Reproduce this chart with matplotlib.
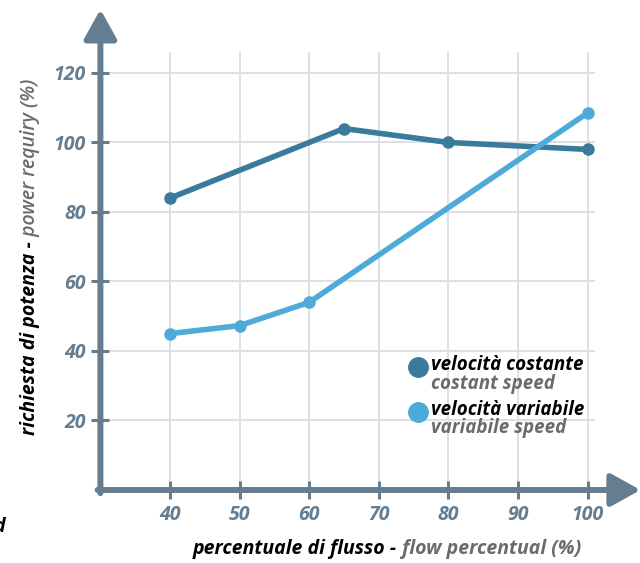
import matplotlib
matplotlib.use("Agg")
import matplotlib.pyplot as plt
from matplotlib.lines import Line2D

# data
flusso_costante = [40, 65, 80, 100]
potenza_costante = [84, 104, 100, 98]
flusso_variabile = [40, 50, 60, 100]
potenza_variabile = [45, 47.3, 54, 108.5]
xticks = [40, 50, 60, 70, 80, 90, 100]
yticks = [20, 40, 60, 80, 100, 120]

c_axis = "#647d91"
c_grid = "#dbe1e7"
c_cost = "#3a7a9b"
c_var = "#4eaad9"
c_gray = "#6b6b6b"

plt.rcParams['font.family'] = ['Open Sans', 'DejaVu Sans']

fig = plt.figure(figsize=(6.4, 5.63), dpi=100)
ax = fig.add_axes([100.4 / 640, 73 / 563, 539.4 / 640, 479.6 / 563])
ax.set_xlim(30, 107.5)
ax.set_ylim(0, 138)
for s in ax.spines.values():
    s.set_visible(False)

# griglia
ax.hlines(yticks, 30, 101, color=c_grid, lw=1.4, zorder=0)
ax.vlines(xticks, 0, 126, color=c_grid, lw=1.4, zorder=0)

# assi con freccia
arrow = dict(arrowstyle='-|>,head_length=0.9,head_width=0.5', mutation_scale=20,
             lw=4.3, color=c_axis, shrinkA=0, shrinkB=0)
ax.annotate('', xy=(30, 138.3), xytext=(30, -0.9), xycoords='data',
            arrowprops=arrow, annotation_clip=False, zorder=3)
ax.annotate('', xy=(107.6, 0), xytext=(29.6, 0), xycoords='data',
            arrowprops=arrow, annotation_clip=False, zorder=3)

ax.set_xticks(xticks)
ax.set_yticks(yticks)
ax.tick_params(direction='inout', length=13, width=2.2, color=c_axis,
               labelcolor=c_axis, labelsize=14, pad=4)
for lab in ax.get_xticklabels() + ax.get_yticklabels():
    lab.set_fontweight('bold')
    lab.set_fontstyle('italic')

# serie
ax.plot(flusso_costante, potenza_costante, color=c_cost, lw=4, marker='o', ms=8,
        solid_capstyle='round', zorder=4, clip_on=False)
ax.plot(flusso_variabile, potenza_variabile, color=c_var, lw=4, marker='o', ms=8,
        solid_capstyle='round', zorder=4, clip_on=False)

# legenda
fp = dict(fontsize=14, fontweight='bold', fontstyle='italic')
fl = dict(fontsize=13.5, fontweight='bold', fontstyle='italic')
leg = [(c_cost, 'velocità costante', 'costant speed', 365 / 563),
       (c_var, 'velocità variabile', 'variabile speed', 410 / 563)]
for col, it, en, yy in leg:
    fig.add_artist(Line2D([418 / 640], [1 - yy - 2 / 563], marker='o', ms=14, color=col,
                          transform=fig.transFigure))
    fig.text(431 / 640, 1 - yy, it, color='black', va='center', ha='left', **fl)
    fig.text(431 / 640, 1 - yy - 18.5 / 563, en, color=c_gray, va='center', ha='left', **fl)

# etichette assi
t1 = fig.text(193 / 640, 1 - 559 / 563, 'percentuale di flusso -', color='black',
              ha='left', va='bottom', **fp)
ax.annotate(' flow percentual (%)', xy=(1, 0), xycoords=t1, ha='left', va='bottom',
            color=c_gray, **fp)
t2 = fig.text(20 / 640, 1 - 435 / 563, 'richiesta di potenza -', color='black',
              rotation=90, ha='left', va='bottom', **fp)
ax.annotate(' power requiry (%)', xy=(0.5, 1), xycoords=t2, ha='center', va='bottom',
            rotation=90, color=c_gray, fontsize=14, fontweight='semibold',
            fontstyle='italic')

# testo tagliato a sinistra (come nell'originale)
fig.text(5 / 640, 1 - 527 / 563, 'd', color='black', ha='right', va='center', **fp)

fig.savefig("out.png", dpi=100)
